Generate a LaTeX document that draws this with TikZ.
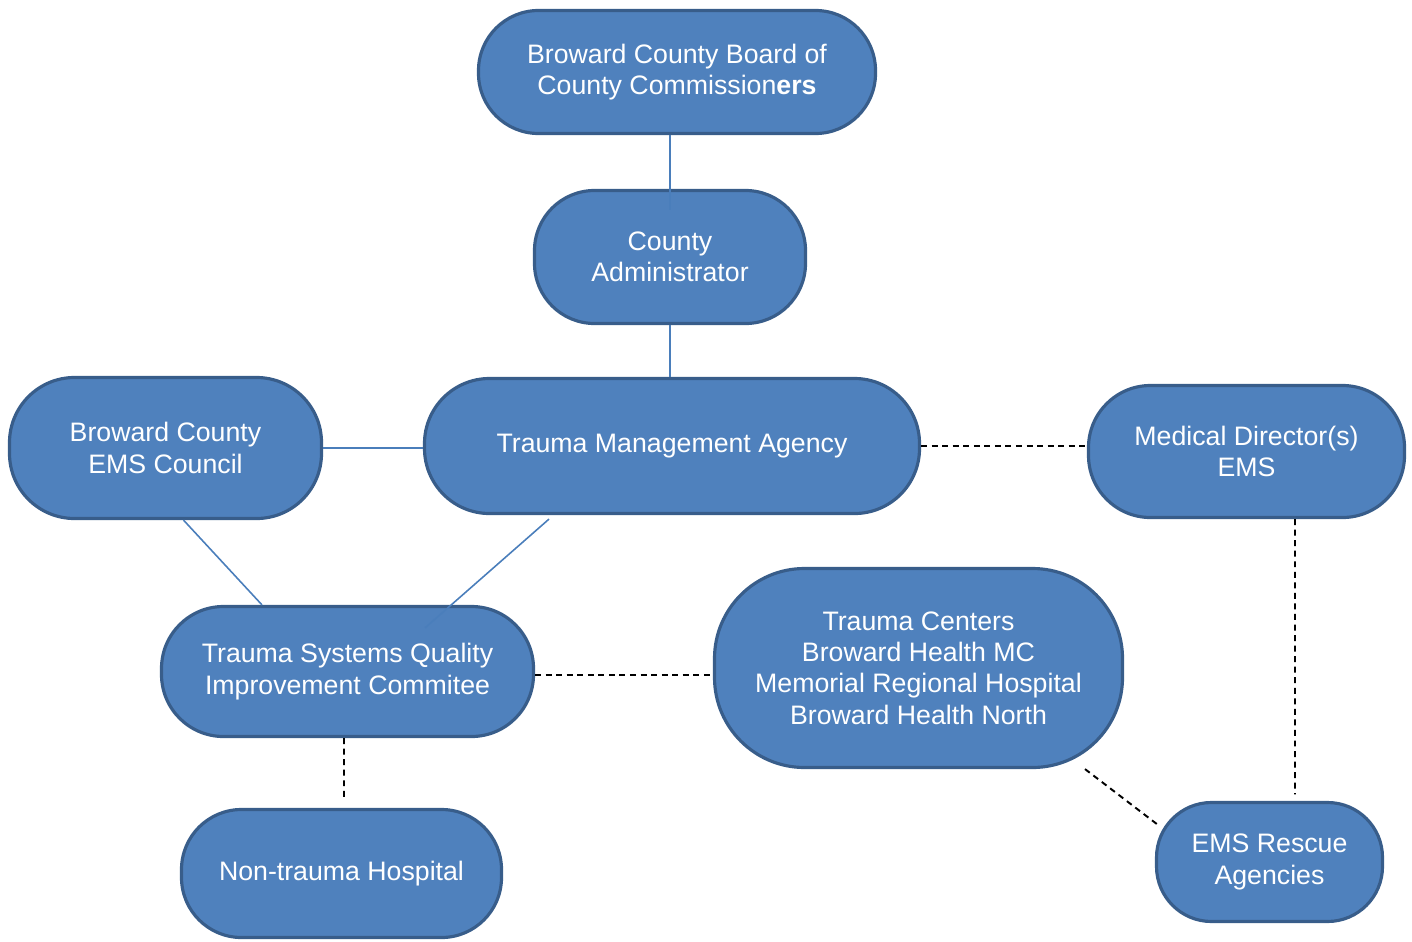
\documentclass[tikz,border=0pt]{standalone}
\usepackage{fontspec}
\setmainfont{Liberation Sans}
\definecolor{boxblue}{HTML}{4F81BD}
\definecolor{boxedge}{HTML}{385D8A}
\definecolor{linkblue}{HTML}{4A7EBB}
\begin{document}
\begin{tikzpicture}[
	box/.style = {draw = boxedge, fill = boxblue, line width = 0.9pt, text = white, align = center, inner sep = 0pt, font = \fontsize{7.6}{8.9}\selectfont},
	link/.style = {color = linkblue, line width = 0.45pt},
	dashlink/.style = {color = black, line width = 0.55pt, dash pattern = on 1.7pt off 1.3pt}
	]
		\useasboundingbox (0,0) rectangle (14.12,-9.41);
		\node[box, minimum width = 3.97cm, minimum height = 1.23cm, rounded corners = 0.6cm] (board) at (6.77,-0.72) {Broward County Board of\\County Commission\textbf{ers}};
		\node[box, minimum width = 2.71cm, minimum height = 1.33cm, rounded corners = 0.6cm] (admin) at (6.70,-2.57) {County\\Administrator};
		\node[box, minimum width = 4.95cm, minimum height = 1.35cm, rounded corners = 0.65cm] (tma) at (6.72,-4.46) {Trauma Management Agency};
		\node[box, minimum width = 3.12cm, minimum height = 1.41cm, rounded corners = 0.65cm] (council) at (1.655,-4.48) {Broward County\\EMS Council};
		\node[box, minimum width = 3.16cm, minimum height = 1.32cm, rounded corners = 0.62cm] (meddir) at (12.465,-4.515) {Medical Director(s)\\EMS};
		\node[box, minimum width = 3.72cm, minimum height = 1.30cm, rounded corners = 0.62cm] (tsqic) at (3.475,-6.715) {Trauma Systems Quality\\Improvement Commitee};
		\node[box, minimum width = 4.08cm, minimum height = 1.99cm, rounded corners = 0.9cm] (centers) at (9.185,-6.68) {Trauma Centers\\Broward Health MC\\Memorial Regional Hospital\\Broward Health North};
		\node[box, minimum width = 3.20cm, minimum height = 1.28cm, rounded corners = 0.6cm] (nontrauma) at (3.415,-8.735) {Non-trauma Hospital};
		\node[box, minimum width = 2.26cm, minimum height = 1.19cm, rounded corners = 0.55cm] (rescue) at (12.695,-8.62) {EMS Rescue\\Agencies};
		% solid links
		\draw[link] (admin.north |- board.south) -- ([yshift=-0.21cm]admin.north);
		\draw[link] (admin.south) -- (admin.south |- tma.north);
		\draw[link] (council.east) -- (council.east -| tma.west);
		\draw[link] ([xshift=0.18cm]council.south) -- ([xshift=-0.855cm]tsqic.north);
		\draw[link] ([xshift=-1.23cm,yshift=-0.04cm]tma.south) -- ([xshift=0.775cm,yshift=-0.23cm]tsqic.north);
		% dashed links
		\draw[dashlink] (tma.east) -- ([xshift=-0.02cm]tma.east -| meddir.west);
		\draw[dashlink] ([xshift=0.485cm]meddir.south) -- ([xshift=0.255cm,yshift=0.065cm]rescue.north);
		\draw[dashlink] ([yshift=-0.035cm]tsqic.east) -- ([yshift=-0.035cm]tsqic.east -| centers.west);
		\draw[dashlink] ([xshift=-0.035cm]tsqic.south) -- ([xshift=0.025cm,yshift=0.1cm]nontrauma.north);
		\draw[dashlink] ([xshift=1.665cm]centers.south) -- ([xshift=0.045cm,yshift=0.36cm]rescue.west);
\end{tikzpicture}
\end{document}
